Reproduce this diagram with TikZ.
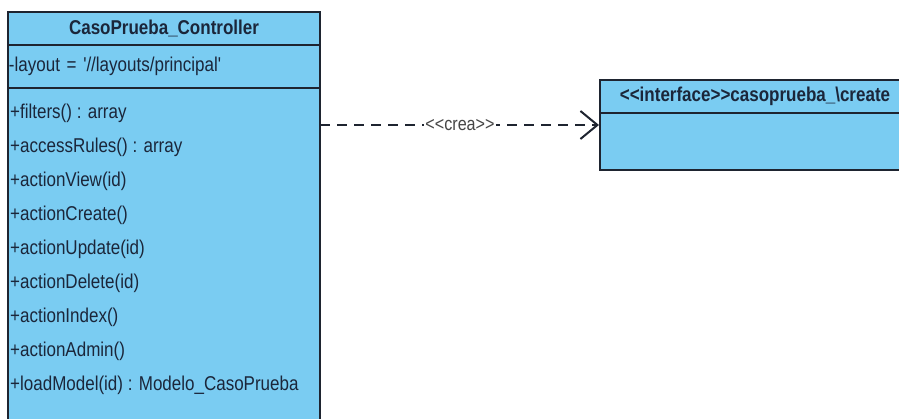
\documentclass[tikz,border=0pt]{standalone}
\usepackage{fontspec}
\setmainfont{Liberation Sans}[FakeStretch=0.85,Ligatures=TeXOff]
\usetikzlibrary{positioning,calc,arrows.meta}
\definecolor{umlfill}{RGB}{122,204,242}
\definecolor{umlline}{RGB}{30,36,48}
\definecolor{umltext}{RGB}{27,38,58}
\definecolor{crealabel}{RGB}{70,70,70}
\def\CtrlWidth{312pt}
\def\IfWidth{310pt}
\def\RowSkip{34}
\tikzset{
  umlbox/.style={draw=umlline, line width=2pt, fill=umlfill, text=umltext,
    inner sep=0pt, outer sep=0pt},
  umlhead/.style={umlbox, font=\fontsize{20}{24}\selectfont\bfseries,
    minimum height=33pt},
  umlrow/.style={umlbox, font=\fontsize{20}{24}\selectfont, inner xsep=1pt,
    text width=#1-2pt, minimum width=#1, align=left},
  oprow/.style={text=umltext, font=\fontsize{20}{24}\selectfont,
    inner xsep=1pt, inner ysep=0pt, anchor=west},
  creadep/.style={draw=umlline, line width=2pt, dash pattern=on 10pt off 7pt,
    -{Straight Barb[length=17pt,width=28pt,line width=2pt]}, shorten >=1pt},
  crealbl/.style={fill=white, text=crealabel, inner sep=1pt,
    font=\fontsize{19}{22}\selectfont}
}
\begin{document}
\begin{tikzpicture}[x=1pt,y=-1pt]
  \useasboundingbox (0,0) rectangle (899,419);
  \clip (0,0) rectangle (899,419);
  % controller class
  \node[umlhead, minimum width=\CtrlWidth, anchor=north west] (ctrltitle) at (8,12)
    {CasoPrueba\_Controller};
  \node[umlrow=\CtrlWidth, minimum height=43pt, below=0pt of ctrltitle] (ctrlattr)
    {-layout = '//layouts/principal'};
  \node[umlbox, minimum width=\CtrlWidth, minimum height=352pt, below=0pt of ctrlattr] (ctrlops) {};
  \foreach \op [count=\i from 0] in {{+filters() : array}, {+accessRules() : array},
      {+actionView(id)}, {+actionCreate()}, {+actionUpdate(id)}, {+actionDelete(id)},
      {+actionIndex()}, {+actionAdmin()}, {+loadModel(id) : Modelo\_CasoPrueba}}
    \node[oprow] (op\i) at ($(ctrlops.north west)+(1,25+\RowSkip*\i)$) {\op};
  % interface
  \node[umlhead, minimum width=\IfWidth, anchor=north west] (iftitle) at (600,80)
    {<<interface>>casoprueba\_\textbackslash create};
  \node[umlbox, minimum width=\IfWidth, minimum height=57pt, below=0pt of iftitle] (ifbody) {};
  % dependency
  \coordinate (creatip) at ($(ifbody.north west)+(0,12)$);
  \draw[creadep] (ctrlops.east |- creatip) -- node[crealbl] (crea) {<<crea>>} (creatip);
\end{tikzpicture}
\end{document}
